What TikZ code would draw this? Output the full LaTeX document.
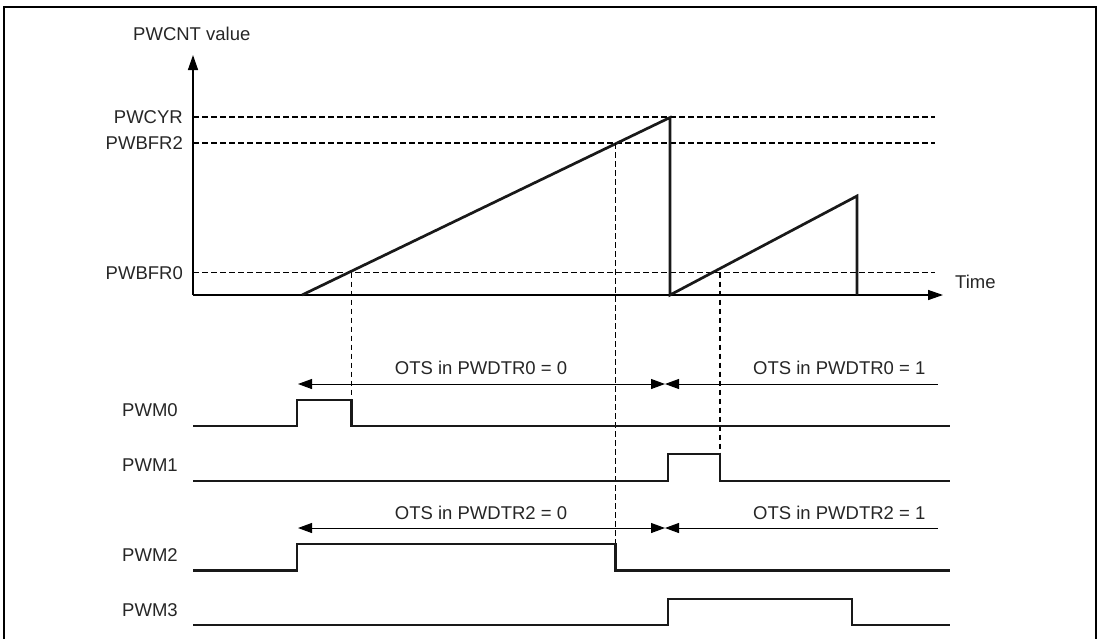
\documentclass[tikz,border=0pt]{standalone}
\usepackage{fontspec}
\setmainfont{Liberation Sans}
\usetikzlibrary{arrows.meta}
\begin{document}
\begin{tikzpicture}[x=1pt,y=-1pt,
  lbl/.style={inner sep=0pt,font=\fontsize{18.5}{20}\selectfont,text=black!85},
  axis/.style={line width=1.4pt,-{Triangle[length=15pt,width=10pt]}},
  guide/.style={line width=1.1pt,dash pattern=on 5.5pt off 3.5pt},
  wave/.style={line width=2.7pt,line join=miter,line cap=butt,black!90},
  ots/.style={line width=1pt,{Triangle[length=14pt,width=10pt]}-{Triangle[length=14pt,width=10pt]}},
  otsl/.style={line width=1pt,{Triangle[length=14pt,width=10pt]}-}
]
\useasboundingbox (0,0) rectangle (1100,638);
% frame
\draw[line width=2.8pt] (4,645) -- (4,7) -- (1096,7) -- (1096,645);

% axes
\coordinate (O) at (193,295);
\coordinate (ytop) at (193,55);
\coordinate (xend) at (943,295);
\draw[axis] (O) -- (ytop);
\draw[axis] (O) -- (xend);
\node[lbl,anchor=base west] (ylab) at (133,40) {PWCNT value};
\node[lbl,anchor=base west] (tlab) at (955,288) {Time};

% level lines
\coordinate (cyrL) at (193,117);  \coordinate (cyrR) at (935,117);
\coordinate (bf2L) at (193,143);  \coordinate (bf2R) at (935,143);
\coordinate (bf0L) at (193,272.5);\coordinate (bf0R) at (935,272.5);
\draw[guide] (cyrL) -- (cyrR);
\draw[guide] (bf2L) -- (bf2R);
\draw[guide] (bf0L) -- (bf0R);
\node[lbl,anchor=base east] (lcyr) at (183,123.5) {PWCYR};
\node[lbl,anchor=base east] (lbf2) at (183,149.5) {PWBFR2};
\node[lbl,anchor=base east] (lbf0) at (183,279) {PWBFR0};

% sawtooth
\coordinate (r1s) at (302,295);
\coordinate (r1t) at (670,117.5);
\coordinate (r1b) at (670,295);
\coordinate (r2t) at (857,196);
\coordinate (r2b) at (857,295);
\draw[wave] (r1s) -- (r1t) -- (r1b) -- (r2t) -- (r2b);

% vertical guides
\coordinate (v1t) at (351.5,272.5); \coordinate (v1b) at (351.5,400);
\coordinate (v2t) at (615.5,143);   \coordinate (v2b) at (615.5,544);
\coordinate (v3t) at (720,272.5);   \coordinate (v3b) at (720,454);
\draw[guide] (v1t) -- (v1b);
\draw[guide] (v2t) -- (v2b);
\draw[guide] (v3t) -- (v3b);

% OTS arrows row 1
\coordinate (a1l) at (298,384); \coordinate (a1m) at (665,384); \coordinate (a1r) at (938,384);
\draw[ots] (a1l) -- (a1m);
\draw[otsl] (a1m) -- (a1r);
\node[lbl,anchor=base] (t10) at (481,374) {OTS in PWDTR0 = 0};
\node[lbl,anchor=base west] (t11) at (753,374) {OTS in PWDTR0 = 1};

% OTS arrows row 2
\coordinate (a2l) at (298,528); \coordinate (a2m) at (665,528); \coordinate (a2r) at (938,528);
\draw[ots] (a2l) -- (a2m);
\draw[otsl] (a2m) -- (a2r);
\node[lbl,anchor=base] (t20) at (481,519) {OTS in PWDTR2 = 0};
\node[lbl,anchor=base west] (t21) at (753,519) {OTS in PWDTR2 = 1};

% PWM waveforms
\node[lbl,anchor=base west] (p0) at (122,416) {PWM0};
\node[lbl,anchor=base west] (p1) at (122,471) {PWM1};
\node[lbl,anchor=base west] (p2) at (122,561) {PWM2};
\node[lbl,anchor=base west] (p3) at (122,616) {PWM3};

\draw[wave] (193,426) -- (297,426) -- (297,400) -- (351.5,400) -- (351.5,426) -- (950,426);
\draw[wave] (193,481) -- (668,481) -- (668,454) -- (720,454) -- (720,481) -- (950,481);
\draw[wave] (193,570.5) -- (297,570.5) -- (297,544) -- (615.5,544) -- (615.5,570.5) -- (950,570.5);
\draw[wave] (193,625) -- (668,625) -- (668,599) -- (852,599) -- (852,625) -- (950,625);
\end{tikzpicture}
\end{document}
